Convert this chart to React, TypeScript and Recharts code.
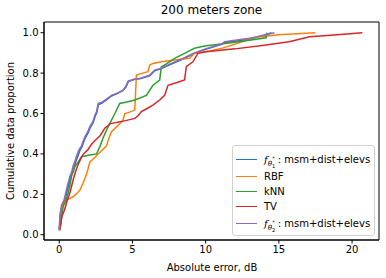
import React from 'react';
import { LineChart, Line, XAxis, YAxis, Legend, ReferenceArea } from 'recharts';

// absolute error (dB) and cumulative proportion
const theta1Err = [0, 0.07, 0.2, 0.35, 0.45, 0.6, 0.78, 0.9, 1.0, 1.15, 1.25, 1.4, 1.55, 1.65, 1.78, 1.98, 2.12, 2.32, 2.45, 2.57, 2.68, 2.92, 3.22, 3.6, 4.0, 4.36, 4.55, 4.72, 5.1, 5.5, 6.18, 6.52, 6.97, 7.66, 8.45, 9.24, 10.0, 11.1, 11.3, 13.0, 14.0, 14.5];
const theta1Prop = [0.023, 0.09, 0.14, 0.16, 0.19, 0.235, 0.285, 0.31, 0.335, 0.365, 0.385, 0.415, 0.435, 0.455, 0.48, 0.505, 0.53, 0.555, 0.585, 0.605, 0.645, 0.652, 0.668, 0.688, 0.7, 0.714, 0.73, 0.758, 0.768, 0.772, 0.786, 0.812, 0.822, 0.845, 0.87, 0.898, 0.918, 0.942, 0.952, 0.968, 0.988, 1.0];

const rbfErr = [0.05, 0.15, 0.27, 0.6, 0.95, 1.2, 1.41, 1.65, 1.87, 2.09, 2.4, 2.66, 2.95, 3.23, 3.4, 3.57, 4.0, 4.36, 4.48, 4.8, 5.16, 5.27, 5.7, 6.06, 6.18, 6.4, 6.97, 7.88, 8.9, 9.24, 10.3, 11.2, 12.5, 13.2, 15.0, 17.5];
const rbfProp = [0.023, 0.1, 0.163, 0.175, 0.188, 0.205, 0.22, 0.26, 0.3, 0.36, 0.38, 0.4, 0.42, 0.44, 0.48, 0.51, 0.54, 0.568, 0.6, 0.607, 0.617, 0.79, 0.8, 0.807, 0.84, 0.848, 0.856, 0.865, 0.873, 0.898, 0.91, 0.925, 0.955, 0.975, 0.99, 1.0];

const knnErr = [0.05, 0.15, 0.27, 0.45, 0.61, 0.75, 0.84, 0.95, 1.07, 1.3, 1.52, 2.0, 2.55, 2.77, 3.0, 3.23, 3.45, 3.8, 4.13, 4.7, 5.16, 5.95, 6.4, 6.86, 6.97, 7.4, 7.88, 8.56, 9.24, 9.92, 11.06, 12.5, 14.13, 14.17];
const knnProp = [0.023, 0.08, 0.14, 0.17, 0.205, 0.25, 0.29, 0.31, 0.337, 0.36, 0.386, 0.393, 0.4, 0.435, 0.48, 0.518, 0.55, 0.6, 0.65, 0.658, 0.667, 0.69, 0.74, 0.766, 0.83, 0.85, 0.873, 0.898, 0.923, 0.934, 0.944, 0.958, 0.975, 1.0];

const tvErr = [0, 0.1, 0.18, 0.35, 0.52, 0.65, 0.75, 0.88, 0.98, 1.15, 1.32, 1.5, 1.66, 1.95, 2.23, 2.5, 2.79, 3.11, 3.5, 4.25, 5.16, 5.4, 5.61, 6.0, 6.4, 6.86, 7.2, 7.43, 8.0, 8.56, 8.68, 9.13, 9.47, 10.04, 12.0, 14.0, 15.7, 17.1, 19.0, 20.7];
const tvProp = [0.023, 0.05, 0.09, 0.12, 0.163, 0.19, 0.213, 0.25, 0.28, 0.32, 0.353, 0.38, 0.4, 0.42, 0.45, 0.47, 0.49, 0.527, 0.55, 0.56, 0.576, 0.59, 0.61, 0.625, 0.642, 0.667, 0.69, 0.74, 0.752, 0.766, 0.832, 0.856, 0.898, 0.906, 0.92, 0.938, 0.955, 0.98, 0.99, 1.0];

const theta2Err = [0, 0.05, 0.16, 0.3, 0.39, 0.55, 0.73, 0.85, 0.95, 1.1, 1.18, 1.35, 1.52, 1.62, 1.75, 1.95, 2.09, 2.3, 2.43, 2.55, 2.66, 2.9, 3.2, 3.57, 4.0, 4.36, 4.55, 4.7, 5.1, 5.5, 6.18, 6.52, 6.97, 7.66, 8.45, 9.24, 10.0, 11.1, 11.3, 13.0, 14.1, 14.7];
const theta2Prop = [0.023, 0.1, 0.147, 0.165, 0.19, 0.24, 0.29, 0.31, 0.34, 0.37, 0.39, 0.42, 0.44, 0.46, 0.485, 0.51, 0.535, 0.56, 0.59, 0.61, 0.65, 0.655, 0.67, 0.69, 0.702, 0.716, 0.735, 0.76, 0.77, 0.774, 0.79, 0.815, 0.824, 0.848, 0.873, 0.9, 0.92, 0.945, 0.955, 0.972, 0.99, 1.0];

const xTicks = [0, 5, 10, 15, 20];
const yTicks = [0, 0.2, 0.4, 0.6, 0.8, 1.0];

const toPoints = (err: number[], prop: number[]) => err.map((e, i) => ({ err: e, prop: prop[i] }));

const X_MIN = -1.04, X_MAX = 21.84, Y_MIN = -0.026, Y_MAX = 1.053;
const FONT = 'DejaVu Sans, sans-serif';

const series = [
  { key: 'theta1', color: '#1f77b4', data: toPoints(theta1Err, theta1Prop) },
  { key: 'rbf', color: '#ff7f0e', data: toPoints(rbfErr, rbfProp) },
  { key: 'knn', color: '#2ca02c', data: toPoints(knnErr, knnProp) },
  { key: 'tv', color: '#d62728', data: toPoints(tvErr, tvProp) },
  { key: 'theta2', color: '#9467bd', data: toPoints(theta2Err, theta2Prop) },
];

const ThetaLabel = ({ n }: { n: string }) => (
  <span>
    <i style={{ fontFamily: 'DejaVu Serif, serif' }}>f</i>
    <span style={{ fontSize: 7, position: 'relative', top: 3 }}>
      <i>θ</i>
      <span style={{ fontSize: 5, position: 'relative', top: 2 }}>{n}</span>
      <span style={{ fontSize: 5, position: 'relative', top: -6, left: -3 }}>*</span>
    </span>
    : msm+dist+elevs
  </span>
);

const legendRows = [
  { color: '#1f77b4', label: <ThetaLabel n="1" />, h: 20 },
  { color: '#ff7f0e', label: 'RBF', h: 15 },
  { color: '#2ca02c', label: 'kNN', h: 14.5 },
  { color: '#d62728', label: 'TV', h: 15 },
  { color: '#9467bd', label: <ThetaLabel n="2" />, h: 20 },
];

const CustomLegend = () => (
  <div style={{
    width: 143, height: 91, boxSizing: 'border-box', border: '1px solid #d0d0d0', borderRadius: 3,
    background: 'rgba(255,255,255,0.8)', padding: '3px 0 0 3px', fontFamily: FONT, fontSize: 10, color: '#000',
  }}>
    {legendRows.map((r, i) => (
      <div key={i} style={{ display: 'flex', alignItems: 'center', height: r.h }}>
        <div style={{ width: 21, height: 0, borderTop: `1.5px solid ${r.color}`, marginRight: 7 }} />
        <div style={{ whiteSpace: 'nowrap' }}>{r.label}</div>
      </div>
    ))}
  </div>
);

export default function App() {
  return (
    <div style={{ position: 'absolute', left: 0, top: 0, width: 386, height: 278, background: '#fff', fontFamily: FONT }}>
      <div style={{ position: 'absolute', left: 44, width: 335, top: 3, textAlign: 'center', fontSize: 12, color: '#000' }}>
        200 meters zone
      </div>
      <LineChart width={386} height={278} margin={{ top: 22, right: 7, bottom: 0, left: 0 }}>
        <XAxis
          dataKey="err" type="number" domain={[X_MIN, X_MAX]} ticks={xTicks} allowDataOverflow
          tickSize={3.5} tickMargin={2} height={38} stroke="#000"
          tick={{ fill: '#000', fontSize: 10, fontFamily: FONT }}
          label={{ content: () => <text x={212} y={271} textAnchor="middle" fontSize={10} fontFamily={FONT} fill="#000">Absolute error, dB</text> }}
        />
        <YAxis
          dataKey="prop" type="number" domain={[Y_MIN, Y_MAX]} ticks={yTicks} allowDataOverflow
          tickSize={3.5} tickMargin={2} width={44} stroke="#000"
          tickFormatter={(v: number) => v.toFixed(1)}
          tick={{ fill: '#000', fontSize: 10, fontFamily: FONT }}
          label={{ content: () => <text x={14} y={131} transform="rotate(-90 14 131)" textAnchor="middle" fontSize={10} fontFamily={FONT} fill="#000">Cumulative data proportion</text> }}
        />
        {series.map(s => (
          <Line key={s.key} data={s.data} dataKey="prop" type="linear" stroke={s.color} strokeWidth={1.5} dot={false} isAnimationActive={false} />
        ))}
        <ReferenceArea x1={X_MIN} x2={X_MAX} y1={Y_MIN} y2={Y_MAX} fill="none" stroke="#000" strokeWidth={1} />
        <Legend layout="vertical" align="center" verticalAlign="middle" content={<CustomLegend />}
          wrapperStyle={{ left: 232, top: 145, width: 143 }} />
      </LineChart>
    </div>
  );
}
